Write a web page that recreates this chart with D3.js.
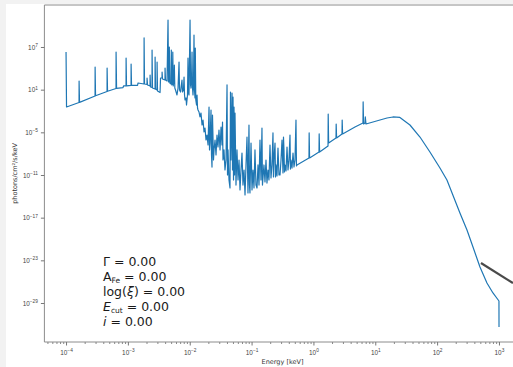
<!DOCTYPE html>
<html>
<head>
<meta charset="utf-8">
<script src="https://cdn.jsdelivr.net/npm/d3@7"></script>
<style>
  html, body { margin: 0; padding: 0; background: #fff; }
  svg { display: block; font-family: "DejaVu Sans", sans-serif; }
</style>
</head>
<body>
<svg id="chart" width="513" height="367"></svg>
<script>
// spectrum: log10(E / keV) and log10(photons/cm2/s/keV)
const logEnergy = [
  -4.000, -3.992, -3.790, -3.789, -3.782, -3.531, -3.530, -3.523, -3.337, -3.336, -3.329,
  -3.192, -3.191, -3.183, -3.079, -3.070, -3.030, -3.029, -3.022, -2.949, -2.948, -2.941,
  -2.844, -2.836, -2.739, -2.738, -2.731, -2.691, -2.690, -2.682, -2.642, -2.641, -2.634,
  -2.610, -2.609, -2.602, -2.561, -2.560, -2.553, -2.529, -2.528, -2.521, -2.480, -2.472,
  -2.448, -2.447, -2.440, -2.400, -2.399, -2.392, -2.367, -2.351, -2.343, -2.335, -2.330,
  -2.322, -2.303, -2.298, -2.290, -2.278, -2.274, -2.267, -2.254, -2.249, -2.241, -2.230,
  -2.206, -2.189, -2.173, -2.165, -2.149, -2.141, -2.125, -2.117, -2.101, -2.092, -2.084,
  -2.076, -2.060, -2.052, -2.036, -2.028, -2.020, -2.012, -1.995, -1.987, -1.979, -1.971,
  -1.963, -1.955, -1.947, -1.939, -1.931, -1.923, -1.915, -1.910, -1.902, -1.890, -1.882,
  -1.874,
  -1.866, -1.850, -1.834, -1.818, -1.801, -1.785, -1.769, -1.753, -1.737, -1.721, -1.704,
  -1.688, -1.680, -1.672, -1.656, -1.648, -1.640, -1.632, -1.616,
  -1.607, -1.591, -1.575, -1.559, -1.543, -1.527, -1.510, -1.494, -1.478, -1.470, -1.462,
  -1.446, -1.430, -1.413, -1.397, -1.389, -1.381, -1.365, -1.349, -1.341, -1.333, -1.316,
  -1.308, -1.300, -1.292, -1.284, -1.276, -1.268, -1.252, -1.236, -1.219, -1.203, -1.187,
  -1.171, -1.155, -1.139, -1.122, -1.106, -1.090, -1.074, -1.058, -1.042, -1.034, -1.026,
  -1.009, -0.993, -0.977, -0.961, -0.945, -0.929, -0.912, -0.896, -0.880, -0.864, -0.848,
  -0.832, -0.824, -0.800, -0.783, -0.767, -0.751, -0.735, -0.719, -0.702, -0.686, -0.670,
  -0.654, -0.646, -0.638, -0.621, -0.613, -0.605, -0.589, -0.573, -0.557, -0.540, -0.524,
  -0.508, -0.492, -0.484, -0.476, -0.468, -0.460, -0.443, -0.427, -0.411, -0.395, -0.379,
  -0.371, -0.363, -0.346, -0.330, -0.314, -0.298, -0.282, -0.274, -0.266,
  -0.072, -0.069, -0.062, 0.090, 0.093, 0.100, 0.236, 0.239, 0.246, 0.365, 0.368, 0.375,
  0.462, 0.465, 0.472, 0.672, 0.801, 0.804, 0.811, 0.834, 0.839, 0.850, 1.076, 1.190,
  1.286, 1.399, 1.561, 1.723, 1.884, 2.046, 2.159, 2.369, 2.483, 2.580, 2.693, 2.806,
  2.903, 3.000, 3.001
];
const logFlux = [
  6.30, -1.44, -0.81, 2.22, -0.78, 0.11, 4.19, 0.14, 0.74, 4.05, 0.77,
  1.16, 6.30, 1.18, 1.30, 1.52, 1.52, 5.45, 1.52, 1.59, 4.61, 1.59,
  1.59, 1.94, 1.80, 8.27, 1.80, 1.73, 2.64, 1.66, 1.52, 3.06, 1.37,
  1.30, 6.58, 1.23, 1.09, 5.59, 1.09, 0.95, 4.89, 0.81, 0.60, 2.64,
  2.64, 3.48, 2.50, 2.36, 4.05, 2.36, 2.22, 10.80, 2.08, 2.36, 7.00,
  1.94, 1.80, 6.58, 1.66, 1.80, 6.30, 1.52, 2.36, 4.47, 1.23, 0.95,
  0.25, 1.23, 4.89, 0.95, 0.67, 1.23, 2.36, 0.67, 0.95, 2.78, 0.25,
  -0.45, -0.17, -1.16, 0.25, 5.45, 0.67, 0.25, 10.80, 1.66, 1.23, 2.36,
  6.30, 1.23, 0.25, 1.66, 8.69, 0.95, -0.17, 6.86, -0.45, -1.16, 0.25,
  -1.58,
  -1.86, -2.14, -2.84, -2.28, -3.97, -3.27, -4.95, -4.39, -6.08, -5.38, -6.78,
  -1.44, -7.48, -6.50, -1.86, -8.19, -9.88, -2.56, -8.89,
  -7.48, -6.08, -8.19, -5.38, -7.06, -4.67, -7.48, -4.25, -6.78, -3.55, -8.89,
  -7.48, -10.30, -8.89, 1.66, -11.00, -7.48, -11.70, -12.83, 0.67, -8.89, 0.53,
  -10.30, -0.03, -11.70, -1.44, -11.00, -2.28, -12.41, -7.48, -11.70, -8.89, -13.11,
  -10.30, -7.91, -12.41, -10.30, -13.81, -9.59, -5.66, -13.53, -3.97, -12.41, -13.53,
  -6.50, -13.11, -10.30, -12.83, -7.48, -12.41, -12.83, -9.59, -12.41, -6.08, -11.70,
  -4.39, -12.41, -9.59, -11.98, -8.89, -12.13, -10.30, -11.70, -6.78, -11.42, -9.59,
  -5.09, -11.28, -8.89, -6.50, -11.28, -9.59, -11.14, -7.20, -11.00, -11.00, -8.89,
  -6.08, -10.72, -5.66, -7.48, -10.58, -9.59, -10.44, -7.06, -10.30, -8.89, -5.38,
  -10.16, -8.89, -10.02, -7.91, -9.88, -8.89, -3.27, -9.73, -9.59,
  -8.61, -5.09, -8.61, -7.77, -5.23, -7.77, -6.92, -2.42, -6.50, -5.80, -3.83, -5.80,
  -5.23, -3.27, -5.23, -4.25, -3.69, -0.73, -3.83, -3.69, -2.84, -3.83, -3.27, -2.98,
  -2.84, -2.91, -3.97, -5.66, -7.77, -10.02, -11.70, -16.34, -18.74, -21.13, -23.94, -26.19,
  -27.59, -28.72, -32.38
];

// grey stroke at the lower right (log10 E, log10 flux)
const overlayLogE = [2.709, 3.226];
const overlayLogF = [-23.37, -26.19];

const xTickExp = [-4, -3, -2, -1, 0, 1, 2, 3];
const yTickExp = [7, 1, -5, -11, -17, -23, -29];

const paramLines = [
  { sym: 'Γ', value: '0.00' },
  { sym: 'A', sub: 'Fe', value: '0.00' },
  { sym: 'log(ξ)', value: '0.00' },
  { sym: 'E', sub: 'cut', italic: true, value: '0.00' },
  { sym: 'i', italic: true, value: '0.00' }
];

const margin = { left: 44.4, right: 520.6, top: 5, bottom: 342 };

const x = d3.scaleLog()
  .domain([10 ** -4.35, 10 ** 3.35])
  .range([margin.left, margin.right]);

const y = d3.scaleLog()
  .domain([10 ** -34.484, 10 ** 12.906])
  .range([margin.bottom, margin.top]);

const svg = d3.select('#chart');

// light grey frame around the figure
svg.append('rect').attr('x', 0).attr('y', 0).attr('width', 513).attr('height', 367).attr('fill', '#fff');
svg.append('rect').attr('x', 0).attr('y', 0).attr('width', 6).attr('height', 367).attr('fill', '#f2f2f2');
svg.append('rect').attr('x', 0).attr('y', 0).attr('width', 513).attr('height', 4).attr('fill', '#f2f2f2');

svg.append('clipPath').attr('id', 'plot-clip')
  .append('rect')
  .attr('x', margin.left).attr('y', margin.top)
  .attr('width', margin.right - margin.left).attr('height', margin.bottom - margin.top);

const points = logEnergy.map((e, i) => [10 ** e, 10 ** logFlux[i]]);

const line = d3.line()
  .x(d => x(d[0]))
  .y(d => y(d[1]));

const plot = svg.append('g').attr('clip-path', 'url(#plot-clip)');

plot.append('path')
  .datum(points)
  .attr('d', line)
  .attr('fill', 'none')
  .attr('stroke', '#1f77b4')
  .attr('stroke-width', 1.2)
  .attr('stroke-linejoin', 'round');

plot.append('path')
  .datum(overlayLogE.map((e, i) => [10 ** e, 10 ** overlayLogF[i]]))
  .attr('d', line)
  .attr('fill', 'none')
  .attr('stroke', '#4a4a4a')
  .attr('stroke-width', 2.2);

// spines
const spine = '#8c8c8c';
svg.append('line').attr('x1', margin.left).attr('x2', margin.left)
  .attr('y1', margin.top).attr('y2', margin.bottom).attr('stroke', spine);
svg.append('line').attr('x1', margin.left).attr('x2', 513)
  .attr('y1', margin.top).attr('y2', margin.top).attr('stroke', spine);
svg.append('line').attr('x1', margin.left).attr('x2', 513)
  .attr('y1', margin.bottom).attr('y2', margin.bottom).attr('stroke', spine);

function powerLabel(sel) {
  sel.each(function (d) {
    const exp = Math.round(Math.log10(d));
    const t = d3.select(this).text('10');
    t.append('tspan')
      .attr('dy', '-0.55em')
      .attr('font-size', '4.8px')
      .text(exp < 0 ? '\u2212' + (-exp) : String(exp));
  });
}

// x axis, majors
const xAxis = svg.append('g')
  .attr('transform', `translate(0,${margin.bottom})`)
  .call(d3.axisBottom(x)
    .tickValues(xTickExp.map(e => 10 ** e))
    .tickSize(3.5)
    .tickPadding(5));
xAxis.select('.domain').remove();
xAxis.selectAll('.tick line').attr('stroke', '#777');
xAxis.selectAll('.tick text')
  .attr('font-size', '6.4px')
  .attr('fill', '#444')
  .call(powerLabel);

// x axis, minors
const minors = [];
for (let e = -5; e <= 3; e++) {
  for (let m = 2; m <= 9; m++) {
    const v = m * 10 ** e;
    if (v > x.domain()[0] && v < x.domain()[1]) minors.push(v);
  }
}
const xMinor = svg.append('g')
  .attr('transform', `translate(0,${margin.bottom})`)
  .call(d3.axisBottom(x).tickValues(minors).tickSize(2).tickFormat(''));
xMinor.select('.domain').remove();
xMinor.selectAll('.tick line').attr('stroke', '#888');

// y axis
const yAxis = svg.append('g')
  .attr('transform', `translate(${margin.left},0)`)
  .call(d3.axisLeft(y)
    .tickValues(yTickExp.map(e => 10 ** e))
    .tickSize(3.5)
    .tickPadding(3));
yAxis.select('.domain').remove();
yAxis.selectAll('.tick line').attr('stroke', '#777');
yAxis.selectAll('.tick text')
  .attr('font-size', '6.4px')
  .attr('fill', '#444')
  .call(powerLabel);

// axis labels
svg.append('text')
  .attr('x', (margin.left + margin.right) / 2)
  .attr('y', 364)
  .attr('text-anchor', 'middle')
  .attr('font-size', '6.5px')
  .attr('fill', '#333')
  .text('Energy [keV]');

svg.append('text')
  .attr('transform', `translate(17,${(margin.top + margin.bottom) / 2}) rotate(-90)`)
  .attr('text-anchor', 'middle')
  .attr('font-size', '6.5px')
  .attr('fill', '#333')
  .text('photons/cm²/s/keV');

// parameter box
const params = svg.append('g').attr('font-size', '12.5px').attr('fill', '#1a1a1a');
paramLines.forEach((p, i) => {
  const t = params.append('text').attr('x', 103).attr('y', 266 + i * 14.9);
  if (p.sym === 'log(ξ)') {
    t.append('tspan').text('log(');
    t.append('tspan').attr('font-style', 'italic').text('ξ');
    t.append('tspan').text(')');
  } else {
    t.append('tspan').attr('font-style', p.italic ? 'italic' : null).text(p.sym);
  }
  if (p.sub) {
    t.append('tspan').attr('dy', 1.8).attr('font-size', '7.5px').text(p.sub);
    t.append('tspan').attr('dy', -1.8).text(' = ' + p.value);
  } else {
    t.append('tspan').text(' = ' + p.value);
  }
});
</script>
</body>
</html>
